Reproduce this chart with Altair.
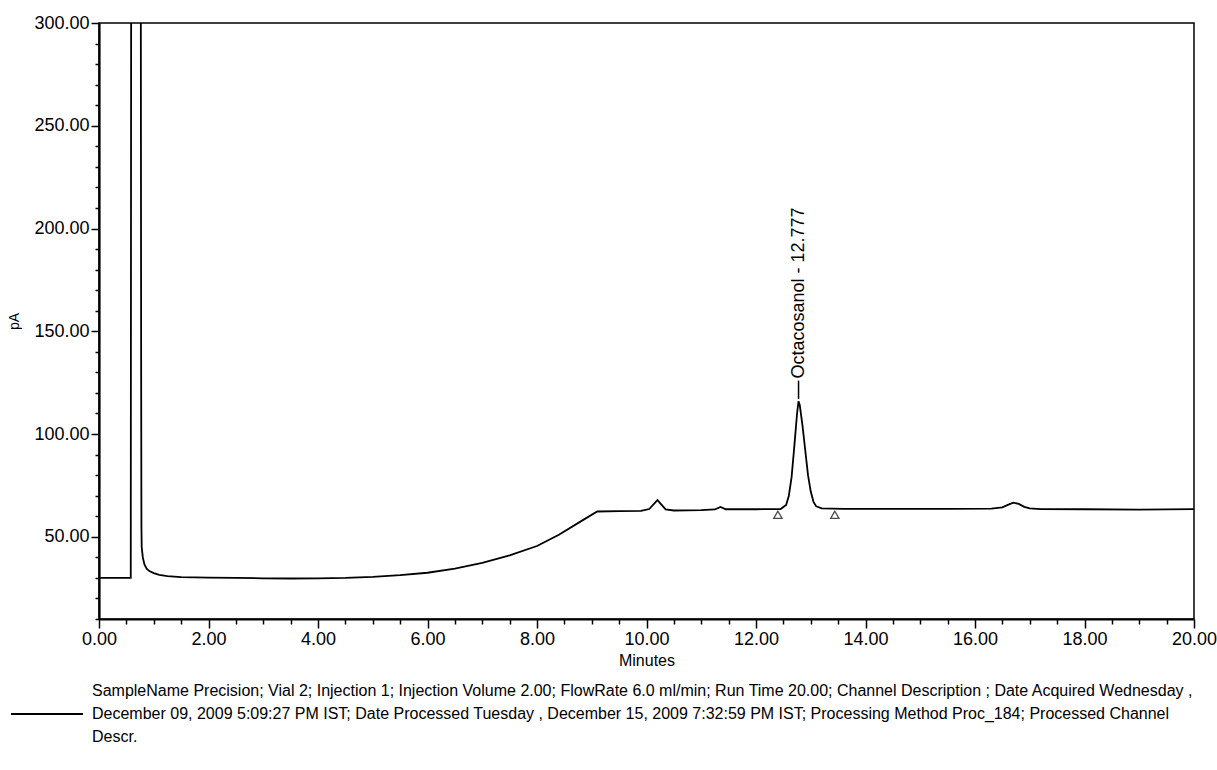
import altair as alt
import pandas as pd

# ---- chromatogram trace ----
time_min = [0.0, 0.3, 0.58, 0.59, 0.76, 0.77, 0.775, 0.78, 0.8, 0.83, 0.87, 0.92, 1.0, 1.1,
            1.25, 1.5, 2.0, 2.5, 3.0, 3.5, 4.0, 4.5, 5.0, 5.5, 6.0, 6.5, 7.0, 7.5, 8.0, 8.4,
            8.8, 9.1, 9.5, 9.9, 10.05, 10.2, 10.35, 10.5, 11.0, 11.25, 11.35, 11.45, 12.0,
            12.45, 12.55, 12.6, 12.65, 12.7, 12.75, 12.777, 12.8, 12.85, 12.9, 12.95, 13.0,
            13.05, 13.1, 13.2, 13.6, 14.5, 15.5, 16.3, 16.5, 16.6, 16.7, 16.8, 16.9, 17.0,
            17.2, 18.0, 19.0, 20.0]
signal = [30.0, 30.0, 30.0, 420.0, 420.0, 130.0, 55.0, 45.0, 40.0, 36.5, 34.5, 33.3, 32.3, 31.5,
          30.9, 30.4, 30.1, 30.0, 29.8, 29.7, 29.8, 30.0, 30.5, 31.3, 32.5, 34.5, 37.3, 41.0, 45.5, 51.0,
          57.5, 62.3, 62.5, 62.6, 63.5, 67.8, 63.3, 62.8, 63.0, 63.3, 64.5, 63.4, 63.4,
          63.5, 65.5, 70.0, 79.0, 94.0, 110.0, 116.0, 114.0, 104.0, 92.0, 80.0, 72.0,
          67.0, 64.8, 63.8, 63.6, 63.6, 63.6, 63.7, 64.3, 65.5, 66.6, 66.0, 64.6, 63.8,
          63.5, 63.4, 63.2, 63.5]

# integration markers (peak start / end)
marker_time = [12.40, 13.44]
marker_value = [60.7, 60.7]

# peak label
peak_name = ["Octacosanol - 12.777"]
peak_time = [12.777]
peak_top = [117.0]
label_base = [126.0]

# axis ticks
x_major = [0.0, 2.0, 4.0, 6.0, 8.0, 10.0, 12.0, 14.0, 16.0, 18.0, 20.0]
x_minor = [0.5, 1.0, 1.5, 2.5, 3.0, 3.5, 4.5, 5.0, 5.5, 6.5, 7.0, 7.5, 8.5, 9.0, 9.5,
           10.5, 11.0, 11.5, 12.5, 13.0, 13.5, 14.5, 15.0, 15.5, 16.5, 17.0, 17.5,
           18.5, 19.0, 19.5]
y_major = [50, 100, 150, 200, 250, 300]
y_minor = [10, 20, 30, 40, 60, 70, 80, 90, 110, 120, 130, 140, 160, 170, 180, 190,
           210, 220, 230, 240, 260, 270, 280, 290]

footer = [
    "SampleName Precision; Vial 2; Injection 1; Injection Volume 2.00; FlowRate 6.0 ml/min; Run Time 20.00; Channel Description ; Date Acquired Wednesday ,",
    "December 09, 2009 5:09:27 PM IST; Date Processed Tuesday , December 15, 2009 7:32:59 PM IST; Processing Method Proc_184; Processed Channel",
    "Descr.",
]

FONT = "Liberation Sans"

trace = pd.DataFrame({"t": time_min, "v": signal, "series": ["trace"] * len(time_min)})
markers = pd.DataFrame({"t": marker_time, "v": marker_value})
peak = pd.DataFrame({"t": peak_time, "top": peak_top, "base": label_base, "name": peak_name})

x_scale = alt.Scale(domain=[0, 20], nice=False, zero=False)
y_scale = alt.Scale(domain=[10, 300], nice=False, zero=False)

x_axis = alt.Axis(
    values=x_major, format=".2f", orient="bottom", tickSize=9,
    labelOverlap=False, labelFlush=False, grid=False,
    domainColor="black", domainWidth=2.2, tickColor="black", tickWidth=1.5,
    labelFont=FONT, labelFontSize=18, labelColor="black", labelPadding=2,
    title="Minutes", titleFont=FONT, titleFontSize=16, titleFontWeight="normal",
    titleColor="black", titlePadding=4,
)
y_axis = alt.Axis(
    values=y_major, format=".2f", orient="left", tickSize=8,
    labelOverlap=False, labelFlush=False, grid=False,
    domainColor="black", domainWidth=2.2, tickColor="black", tickWidth=1.5,
    labelFont=FONT, labelFontSize=18, labelColor="black", labelPadding=2,
    title="pA", titleFont=FONT, titleFontSize=14, titleFontWeight="normal",
    titleColor="black", titlePadding=12,
)
x_axis_minor = alt.Axis(
    values=x_minor, orient="bottom", tickSize=5, labels=False, domain=False, grid=False,
    tickColor="black", tickWidth=1.5, title=None,
)
y_axis_minor = alt.Axis(
    values=y_minor, orient="left", tickSize=4, labels=False, domain=False, grid=False,
    tickColor="black", tickWidth=1.5, title=None,
)

line = alt.Chart(trace).mark_line(strokeWidth=1.8, clip=True).encode(
    x=alt.X("t:Q", scale=x_scale, axis=x_axis),
    y=alt.Y("v:Q", scale=y_scale, axis=y_axis),
    color=alt.Color(
        "series:N",
        scale=alt.Scale(range=["black"]),
        legend=alt.Legend(
            orient="none", legendX=-89, legendY=654, title=None, padding=0,
            symbolType="stroke", symbolSize=5184, symbolStrokeWidth=1.8,
            symbolStrokeColor="black", labelExpr="''", labelOffset=0,
        ),
    ),
)

tri = alt.Chart(markers).mark_point(
    shape="triangle-up", filled=True, fill="white", stroke="black", strokeWidth=1.3, size=70
).encode(
    x=alt.X("t:Q", scale=x_scale, axis=x_axis_minor),
    y=alt.Y("v:Q", scale=y_scale, axis=y_axis_minor),
)

connector = alt.Chart(peak).mark_rule(color="black", strokeWidth=1.5).encode(
    x=alt.X("t:Q", scale=x_scale, axis=None),
    y=alt.Y("top:Q", scale=y_scale, axis=None),
    y2="base:Q",
)

label = alt.Chart(peak).mark_text(
    angle=270, align="left", baseline="middle", font=FONT, fontSize=18, color="black", dx=2
).encode(
    x=alt.X("t:Q", scale=x_scale, axis=None),
    y=alt.Y("base:Q", scale=y_scale, axis=None),
    text="name:N",
)

chart = alt.layer(line, tri, connector, label).resolve_axis(
    x="independent", y="independent"
).properties(
    width=1095, height=596,
    autosize=alt.AutoSizeParams(type="none"),
    padding={"left": 99, "top": 23, "right": 23, "bottom": 151},
    title=alt.TitleParams(
        text=footer, orient="bottom", anchor="start", frame="group", dx=-7,
        font=FONT, fontSize=16, fontWeight="normal", color="black",
        lineHeight=23, offset=-36,
    ),
).configure(
    background="white",
    view=alt.ViewConfig(stroke="black", strokeWidth=1.5),
)

chart.save("out.html", embed_options={"renderer": "svg", "actions": False})
